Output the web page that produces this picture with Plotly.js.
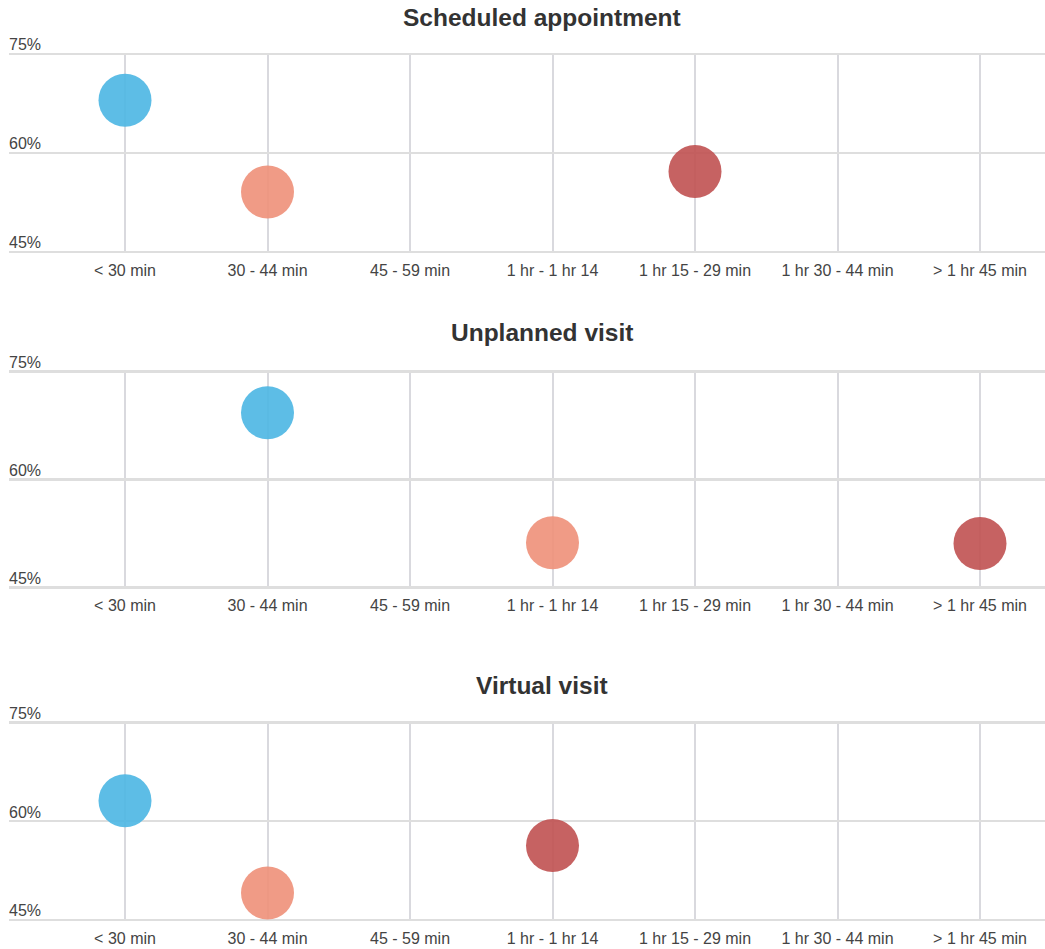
<!DOCTYPE html>
<html>
<head>
<meta charset="utf-8">
<script src="https://cdn.plot.ly/plotly-3.0.1.min.js"></script>
<style>html,body{margin:0;padding:0;background:#fff;}#chart{width:1045px;height:949px;}</style>
</head>
<body>
<div id="chart"></div>
<script>
const categories = ["< 30 min", "30 - 44 min", "45 - 59 min", "1 hr - 1 hr 14", "1 hr 15 - 29 min", "1 hr 30 - 44 min", "> 1 hr 45 min"];
const panelTitles = ["Scheduled appointment", "Unplanned visit", "Virtual visit"];
const yTickVals = [45, 60, 75];
const yTickText = ["45%", "60%", "75%"];

// each panel: three points (blue, salmon, dark red)
const scheduledX = ["< 30 min", "30 - 44 min", "1 hr 15 - 29 min"];
const scheduledY = [68.0, 54.1, 57.2];
const unplannedX = ["30 - 44 min", "1 hr - 1 hr 14", "> 1 hr 45 min"];
const unplannedY = [69.3, 51.2, 51.1];
const virtualX = ["< 30 min", "30 - 44 min", "1 hr - 1 hr 14"];
const virtualY = [63.1, 49.1, 56.3];

const pointColors = ["#4bb6e3", "#ee9079", "#c05151"];

const W = 1045, H = 949;
const panelsPx = [[54, 252], [371.7, 587.3], [722.3, 920]];
const titleY = [17, 333, 685];
const font = "Liberation Sans, Arial, sans-serif";
const pad = 0.2;

const panelData = [[scheduledX, scheduledY], [unplannedX, unplannedY], [virtualX, virtualY]];
const traces = panelData.map((p, i) => ({
  type: "scatter", mode: "markers",
  x: p[0], y: p[1],
  xaxis: i === 0 ? "x" : "x" + (i + 1),
  yaxis: i === 0 ? "y" : "y" + (i + 1),
  marker: {size: 53, color: pointColors, opacity: 0.9, line: {width: 0}},
  hoverinfo: "skip", showlegend: false, cliponaxis: false
}));

const layout = {
  width: W, height: H,
  margin: {l: 9, r: 0, t: 0, b: 0},
  paper_bgcolor: "#fff", plot_bgcolor: "#fff",
  font: {family: font, size: 16, color: "#444"},
  showlegend: false,
  annotations: panelTitles.map((t, i) => ({
    text: "<b>" + t + "</b>", xref: "paper", yref: "paper",
    x: (542 - 9) / (W - 9), y: 1 - titleY[i] / H,
    xanchor: "center", yanchor: "middle", showarrow: false,
    font: {family: font, size: 24.5, color: "#333"}
  }))
};

panelsPx.forEach((px, i) => {
  const sx = i === 0 ? "" : String(i + 1);
  const start = -(125 - 9) / 142.5;
  const pxPer = (px[1] - px[0]) / 30;
  layout["xaxis" + sx] = {
    type: "category", categoryarray: categories, categoryorder: "array",
    range: [start, start + (W - 9) / 142.5],
    anchor: "y" + sx, domain: [0, 1],
    showgrid: true, gridcolor: "#d9d9de", gridwidth: 2,
    showline: false, zeroline: false, ticks: "outside", ticklen: 2, tickcolor: "rgba(0,0,0,0)",
    tickvals: categories, ticktext: categories,
    tickfont: {family: font, size: 16, color: "#444"},
    fixedrange: true
  };
  layout["yaxis" + sx] = {
    range: [45 - pad, 75 + pad], anchor: "x" + sx,
    domain: [1 - (px[1] + pad * pxPer) / H, 1 - (px[0] - pad * pxPer) / H],
    tickvals: yTickVals, ticktext: yTickText,
    ticklabelposition: "inside top", ticklabeloverflow: "allow", ticklabelstandoff: -3, ticklabelshift: 2,
    showgrid: true, gridcolor: "#dedede", gridwidth: 2.5,
    showline: false, zeroline: false, ticks: "",
    tickfont: {family: font, size: 16, color: "#444"},
    fixedrange: true
  };
});

Plotly.newPlot("chart", traces, layout, {displayModeBar: false, staticPlot: true});
</script>
</body>
</html>
